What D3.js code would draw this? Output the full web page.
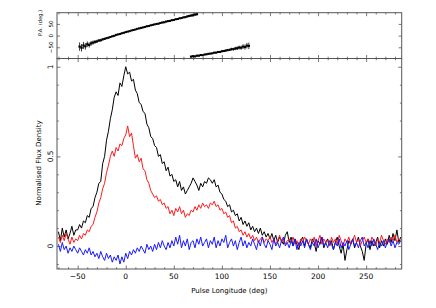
<!DOCTYPE html>
<html>
<head>
<meta charset="utf-8">
<script src="https://d3js.org/d3.v7.min.js"></script>
<style>
  body { margin: 0; background: #fff; }
  text { font-family: "DejaVu Sans", sans-serif; fill: #000; }
</style>
</head>
<body>
<div id="chart"></div>
<script>
// pulse longitude bins (deg), 2 deg wide, from -70 to 286
var lon = d3.range(-70, 287, 2);

// total intensity (black)
var totalI = [
  0.08, 0.03, 0.10, 0.05, 0.09, 0.04, 0.07, 0.11, 0.06, 0.09,
  0.09, 0.12, 0.10, 0.14, 0.13, 0.17, 0.16, 0.21, 0.22, 0.27,
  0.30, 0.35, 0.36, 0.46, 0.50, 0.59, 0.64, 0.71, 0.76, 0.83,
  0.86, 0.84, 0.91, 0.89, 0.95, 1.00, 0.96, 0.97, 0.92, 0.93,
  0.87, 0.85, 0.80, 0.79, 0.75, 0.74, 0.68, 0.66, 0.61, 0.60,
  0.56, 0.55, 0.50, 0.51, 0.46, 0.47, 0.42, 0.44, 0.39, 0.40,
  0.36, 0.37, 0.33, 0.36, 0.31, 0.33, 0.29, 0.31, 0.33, 0.35,
  0.38, 0.36, 0.34, 0.31, 0.35, 0.33, 0.36, 0.35, 0.38, 0.37,
  0.35, 0.37, 0.33, 0.34, 0.30, 0.29, 0.26, 0.25, 0.22, 0.23,
  0.19, 0.20, 0.17, 0.18, 0.14, 0.16, 0.12, 0.14, 0.11, 0.13,
  0.09, 0.11, 0.08, 0.10, 0.07, 0.10, 0.06, 0.08, 0.05, 0.07,
  0.04, 0.07, 0.03, 0.06, 0.02, 0.05, 0.03, 0.01, 0.06, 0.08,
  0.02, 0.05, 0.00, 0.04, 0.01, -0.02, 0.03, 0.05, 0.00, 0.04,
  0.01, -0.01, 0.04, 0.02, -0.03, 0.03, 0.01, 0.05, -0.01, 0.02,
  0.04, 0.00, 0.03, -0.02, 0.02, 0.05, 0.00, -0.04, 0.01, -0.08,
  -0.02, 0.03, 0.01, 0.04, -0.01, 0.02, 0.05, 0.00, -0.03, -0.08,
  0.01, 0.04, -0.02, 0.03, 0.00, 0.02, 0.05, -0.01, 0.03, 0.00,
  0.04, 0.01, 0.06, 0.02, 0.07, 0.03, 0.09, 0.02, 0.05
];

// linear polarisation (red)
var linearL = [
  0.05, 0.02, 0.06, 0.03, 0.07, 0.04, 0.01, 0.05, 0.02, 0.04,
  0.03, 0.06, 0.04, 0.07, 0.06, 0.09, 0.08, 0.11, 0.12, 0.16,
  0.19, 0.24, 0.27, 0.32, 0.35, 0.41, 0.45, 0.50, 0.53, 0.50,
  0.55, 0.53, 0.57, 0.56, 0.60, 0.62, 0.67, 0.61, 0.63, 0.56,
  0.49, 0.51, 0.47, 0.49, 0.43, 0.42, 0.37, 0.35, 0.31, 0.29,
  0.27, 0.28, 0.25, 0.26, 0.23, 0.24, 0.21, 0.22, 0.18, 0.20,
  0.17, 0.21, 0.19, 0.22, 0.18, 0.20, 0.16, 0.18, 0.17, 0.20,
  0.19, 0.22, 0.20, 0.23, 0.21, 0.24, 0.22, 0.23, 0.21, 0.24,
  0.23, 0.25, 0.22, 0.23, 0.20, 0.21, 0.18, 0.19, 0.16, 0.17,
  0.13, 0.14, 0.10, 0.11, 0.08, 0.09, 0.06, 0.08, 0.05, 0.07,
  0.04, 0.06, 0.03, 0.05, 0.02, 0.04, 0.05, 0.02, 0.04, 0.03,
  0.05, 0.02, 0.04, 0.01, 0.03, 0.06, 0.02, 0.04, 0.01, 0.03,
  0.04, 0.02, 0.05, 0.01, 0.03, 0.00, 0.04, 0.02, 0.05, 0.03,
  0.01, 0.04, 0.02, 0.05, 0.00, 0.03, 0.06, 0.01, 0.04, 0.02,
  0.03, 0.00, 0.05, 0.02, 0.04, 0.01, 0.06, 0.03, 0.00, 0.04,
  0.02, 0.05, 0.01, 0.03, 0.06, 0.02, 0.04, 0.00, 0.03, 0.05,
  0.02, 0.04, 0.01, 0.05, 0.03, 0.00, 0.04, 0.02, 0.06, 0.03,
  0.01, 0.04, 0.02, 0.05, 0.03, 0.06, 0.02, 0.04, 0.03
];

// circular polarisation (blue)
var circularV = [
  0.01, -0.03, 0.02, -0.02, 0.00, -0.04, -0.01, -0.03, 0.00, -0.02,
  -0.04, -0.01, -0.03, -0.05, -0.02, -0.04, -0.01, -0.05, -0.03, -0.06,
  -0.04, -0.07, -0.03, -0.06, -0.08, -0.04, -0.07, -0.05, -0.09, -0.06,
  -0.08, -0.05, -0.10, -0.06, -0.09, -0.04, -0.07, -0.03, -0.05, -0.02,
  -0.04, -0.01, -0.03, 0.00, -0.02, -0.04, 0.01, -0.02, 0.00, -0.03,
  0.01, -0.02, 0.02, -0.01, 0.03, 0.00, -0.02, 0.02, -0.01, 0.03,
  0.00, 0.05, 0.01, 0.06, -0.01, 0.03, 0.00, 0.04, -0.02, 0.02,
  0.03, -0.01, 0.04, 0.01, 0.05, 0.00, 0.02, 0.04, -0.01, 0.03,
  0.01, 0.05, -0.01, 0.03, 0.00, 0.04, 0.02, 0.06, -0.01, 0.02,
  0.04, 0.00, 0.03, -0.02, 0.02, 0.05, 0.00, 0.03, -0.01, 0.02,
  0.00, 0.04, 0.01, -0.02, 0.03, 0.00, 0.05, 0.01, -0.01, 0.03,
  0.01, -0.02, 0.04, 0.00, 0.02, -0.01, 0.03, 0.05, 0.00, 0.02,
  -0.01, 0.03, 0.00, 0.04, -0.02, 0.02, 0.00, 0.03, -0.01, 0.04,
  0.01, -0.02, 0.02, 0.00, 0.04, -0.01, 0.02, 0.05, 0.00, 0.02,
  -0.01, 0.03, 0.01, -0.02, 0.02, 0.00, 0.04, -0.01, 0.02, 0.00,
  0.03, -0.02, 0.01, 0.04, 0.00, 0.02, -0.01, 0.03, 0.05, 0.00,
  0.02, -0.01, 0.03, 0.00, 0.04, 0.01, -0.02, 0.02, 0.00, 0.03,
  -0.01, 0.02, 0.04, 0.00, 0.03, -0.01, 0.02, 0.01, 0.03
];

// position angle, first branch (deg)
var paLonA = d3.range(-48, 75, 2);
var paA = [
  -47, -52, -42, -46, -37, -40, -33, -30, -27, -25,
  -21, -20, -16, -14, -11, -9, -6, -3, -1, 3,
  5, 7, 10, 12, 15, 17, 19, 22, 24, 26,
  29, 31, 33, 35, 37, 40, 41, 44, 46, 48,
  50, 51, 54, 56, 57, 60, 62, 63, 66, 67,
  70, 71, 74, 75, 78, 79, 82, 84, 86, 87,
  90, 92
];
var paErrA = [
  18, 16, 15, 14, 12, 11, 10, 9, 8, 7,
  6, 6, 5, 5, 4, 4, 3, 3, 3, 3,
  2, 2, 2, 2, 2, 2, 2, 2, 2, 2,
  2, 2, 2, 2, 2, 2, 2, 2, 2, 2,
  3, 3, 3, 3, 3, 3, 3, 3, 3, 3,
  3, 3, 3, 3, 3, 4, 4, 5, 5, 6,
  6, 7
];

// position angle, wrapped branch (deg)
var paLonB = d3.range(68, 129, 2);
var paB = [
  -90, -88, -89, -86, -86, -83, -84, -81, -80, -78,
  -77, -76, -73, -73, -70, -70, -67, -66, -64, -62,
  -61, -58, -58, -55, -54, -51, -52, -47, -49, -43,
  -44
];
var paErrB = [
  5, 5, 4, 4, 4, 4, 3, 3, 3, 3,
  3, 3, 3, 3, 3, 4, 4, 4, 5, 5,
  5, 6, 6, 7, 8, 8, 9, 10, 11, 12,
  14
];

var xMajor = [-50, 0, 50, 100, 150, 200, 250];
var paMajor = [-50, 0, 50];
var fluxMajor = [0, 0.5, 1];

var W = 436, H = 308;
var L = 57, R = 401.7, T = 12.7, M = 58.5, B = 269;

var svg = d3.select("#chart").append("svg")
  .attr("width", W).attr("height", H);

var x = d3.scaleLinear().domain([-71.5, 287]).range([L, R]);
var yPA = d3.scaleLinear().domain([-98, 98]).range([M, T]);
var yI = d3.scaleLinear().domain([-0.128, 1.046]).range([B, M]);

var defs = svg.append("defs");
defs.append("clipPath").attr("id", "clipTop").append("rect")
  .attr("x", L).attr("y", T).attr("width", R - L).attr("height", M - T);
defs.append("clipPath").attr("id", "clipMain").append("rect")
  .attr("x", L).attr("y", M).attr("width", R - L).attr("height", B - M);

// inward ticks on one edge
function ticks(axisFn, scale, vals, len, tx, ty) {
  var g = svg.append("g").attr("transform", "translate(" + tx + "," + ty + ")")
    .call(axisFn(scale).tickValues(vals).tickSize(len).tickFormat(""));
  g.select(".domain").remove();
  g.selectAll("line").attr("stroke", "#555").attr("stroke-width", 0.8);
  return g;
}
var xMinor = d3.range(-70, 288, 10).filter(function(v) { return v % 50 !== 0; });
var fluxMinor = d3.range(-0.1, 1.05, 0.1).map(function(v) { return +v.toFixed(1); })
  .filter(function(v) { return v !== 0 && v !== 0.5 && v !== 1; });

[T, M].forEach(function(yy) {
  ticks(d3.axisTop, x, xMajor, -3.5, 0, yy);
  ticks(d3.axisTop, x, xMinor, -1.8, 0, yy);
});
[M, B].forEach(function(yy) {
  ticks(d3.axisBottom, x, xMajor, -3.5, 0, yy);
  ticks(d3.axisBottom, x, xMinor, -1.8, 0, yy);
});
ticks(d3.axisLeft, yPA, paMajor, -3, L, 0);
ticks(d3.axisRight, yPA, paMajor, -3, R, 0);
ticks(d3.axisLeft, yI, fluxMajor, -3.5, L, 0);
ticks(d3.axisLeft, yI, fluxMinor, -1.8, L, 0);
ticks(d3.axisRight, yI, fluxMajor, -3.5, R, 0);
ticks(d3.axisRight, yI, fluxMinor, -1.8, R, 0);

// PA panel
var paG = svg.append("g").attr("clip-path", "url(#clipTop)");
function drawPA(lons, pas, errs) {
  var pts = lons.map(function(l, i) { return {l: l, p: pas[i], e: errs[i]}; });
  paG.append("g").selectAll("line").data(pts).enter().append("line")
    .attr("x1", function(d) { return x(d.l); })
    .attr("x2", function(d) { return x(d.l); })
    .attr("y1", function(d) { return yPA(d.p - d.e); })
    .attr("y2", function(d) { return yPA(d.p + d.e); })
    .attr("stroke", "#000").attr("stroke-width", 0.8);
  paG.append("g").selectAll("rect").data(pts).enter().append("rect")
    .attr("x", function(d) { return x(d.l) - 1.2; })
    .attr("y", function(d) { return yPA(d.p) - 1; })
    .attr("width", 2.4).attr("height", 2)
    .attr("fill", "#000");
}
drawPA(paLonA, paA, paErrA);
drawPA(paLonB, paB, paErrB);

// profiles
var mainG = svg.append("g").attr("clip-path", "url(#clipMain)");
function profile(vals, colour) {
  var line = d3.line()
    .x(function(d, i) { return x(lon[i]); })
    .y(function(d) { return yI(d); });
  mainG.append("path").datum(vals)
    .attr("d", line)
    .attr("fill", "none")
    .attr("stroke", colour)
    .attr("stroke-width", 1)
    .attr("stroke-linejoin", "round");
}
profile(totalI, "#000");
profile(linearL, "#ff1a1a");
profile(circularV, "#1a1aff");

// frames
svg.append("rect").attr("x", L).attr("y", T).attr("width", R - L).attr("height", M - T)
  .attr("fill", "none").attr("stroke", "#555").attr("stroke-width", 1);
svg.append("rect").attr("x", L).attr("y", M).attr("width", R - L).attr("height", B - M)
  .attr("fill", "none").attr("stroke", "#555").attr("stroke-width", 1);

// labels
var fmt = d3.format("");
svg.append("g").selectAll("text").data(xMajor).enter().append("text")
  .attr("x", function(d) { return x(d); }).attr("y", 278.5)
  .attr("text-anchor", "middle").attr("font-size", 7.5)
  .text(function(d) { return fmt(d); });

svg.append("g").selectAll("text").data(fluxMajor).enter().append("text")
  .attr("transform", function(d) { return "translate(52.5," + yI(d) + ") rotate(-90)"; })
  .attr("text-anchor", "middle").attr("font-size", 7.5)
  .text(function(d) { return fmt(d); });

svg.append("g").selectAll("text").data(paMajor).enter().append("text")
  .attr("transform", function(d) { return "translate(52.5," + yPA(d) + ") rotate(-90)"; })
  .attr("text-anchor", "middle").attr("font-size", 5.6)
  .text(function(d) { return fmt(d); });

svg.append("text").attr("x", (L + R) / 2).attr("y", 292.5)
  .attr("text-anchor", "middle").attr("font-size", 7)
  .text("Pulse Longitude (deg)");

svg.append("text").attr("transform", "translate(40.5,163) rotate(-90)")
  .attr("text-anchor", "middle").attr("font-size", 7)
  .text("Normalised Flux Density");

svg.append("text").attr("transform", "translate(41.5,23) rotate(-90)")
  .attr("text-anchor", "middle").attr("font-size", 5.2)
  .text("P.A. (deg.)");
</script>
</body>
</html>
